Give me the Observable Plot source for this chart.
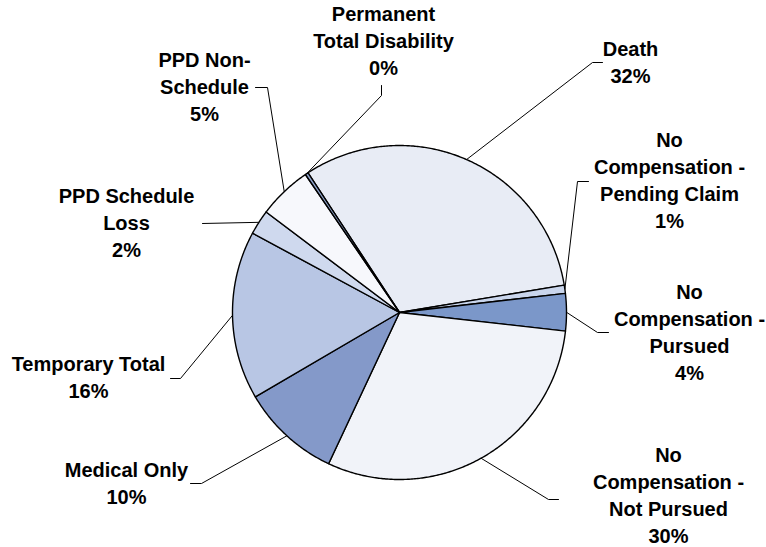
<!DOCTYPE html>
<html>
<head>
<meta charset="utf-8">
<script src="https://cdn.jsdelivr.net/npm/d3@7"></script>
<script src="https://cdn.jsdelivr.net/npm/@observablehq/plot@0.6"></script>
<style>
  html, body { margin: 0; padding: 0; background: #fff; }
  #chart svg { display: block; }
</style>
</head>
<body>
<div id="chart"></div>
<script>
// ---- Data ----
const categories = [
  "Death",
  "No Compensation - Pending Claim",
  "No Compensation - Pursued",
  "No Compensation - Not Pursued",
  "Medical Only",
  "Temporary Total",
  "PPD Schedule Loss",
  "PPD Non-Schedule",
  "Permanent Total Disability"
];
const shares = [31.6, 0.8, 3.6, 30.2, 9.6, 16.3, 2.4, 5.2, 0.3];
const labelNames = [
  "Death",
  "No\nCompensation -\nPending Claim",
  "No\nCompensation -\nPursued",
  "No\nCompensation -\nNot Pursued",
  "Medical Only",
  "Temporary Total",
  "PPD Schedule\nLoss",
  "PPD Non-\nSchedule",
  "Permanent\nTotal Disability"
];

// ---- Styles / layout ----
const sliceColors = ["#e8ecf5", "#c9d5ec", "#7b97c9", "#f1f3f9", "#8499c9", "#b8c6e4", "#cfd9ee", "#f7f8fc", "#8fa3cc"];
const W = 766, H = 547;
const cx = 399, cy = 312, R = 167;
const startDeg = -33.2;
const textShift = -3;
// label block centre and leader elbow/tick points (pixel layout)
const labelLayout = [
  {tx: 630, ty: 63.5, pts: [[592, 62], [602, 62]]},
  {tx: 669, ty: 181.5, pts: [[577, 181], [588, 181]]},
  {tx: 689, ty: 333, pts: [[597, 332], [608, 332]]},
  {tx: 668, ty: 496.5, pts: [[548, 499], [558, 499]]},
  {tx: 126, ty: 484.5, pts: [[201, 483], [190, 483]]},
  {tx: 88, ty: 378.5, pts: [[180, 378], [170, 378]]},
  {tx: 126, ty: 224, pts: [[202, 223]]},
  {tx: 204, ty: 88, pts: [[267, 87], [255, 87]]},
  {tx: 383, ty: 41.5, pts: [[381, 95], [381, 85]]}
];

// ---- Geometry from data ----
const total = d3.sum(shares);
const rad = d => d * Math.PI / 180;
const pt = (deg, r) => [cx + r * Math.sin(rad(deg)), cy - r * Math.cos(rad(deg))];

let acc = startDeg;
const slices = categories.map((c, i) => {
  const a0 = acc, a1 = acc + shares[i] / total * 360;
  acc = a1;
  return {cat: c, a0, a1, mid: (a0 + a1) / 2, color: sliceColors[i], share: shares[i], i};
});

const slicePts = [];
for (const s of slices) {
  slicePts.push({cat: s.cat, color: s.color, p: [cx, cy]});
  const n = Math.max(2, Math.ceil((s.a1 - s.a0) / 0.5));
  for (let k = 0; k <= n; k++) {
    const a = s.a0 + (s.a1 - s.a0) * k / n;
    slicePts.push({cat: s.cat, color: s.color, p: pt(a, R)});
  }
}

const leaderPts = [];
slices.forEach((s, i) => {
  leaderPts.push({cat: s.cat, p: pt(s.mid, R)});
  for (const q of labelLayout[i].pts) leaderPts.push({cat: s.cat, p: q});
});

const labels = slices.map((s, i) => ({
  x: labelLayout[i].tx, y: labelLayout[i].ty + textShift,
  text: labelNames[i] + "\n" + Math.round(s.share) + "%"
}));

const chart = Plot.plot({
  width: W, height: H,
  margin: 0,
  x: {domain: [0, W], range: [0, W], axis: null},
  y: {domain: [0, H], range: [0, H], axis: null},
  color: {type: "identity"},
  marks: [
    Plot.line(leaderPts, {x: d => d.p[0], y: d => d.p[1], z: "cat", stroke: "#000", strokeWidth: 1}),
    Plot.line(slicePts, {x: d => d.p[0], y: d => d.p[1], z: "cat", fill: "color", stroke: "#000", strokeWidth: 1.4, curve: "linear-closed", strokeLinejoin: "round"}),
    Plot.text(labels, {x: "x", y: "y", text: "text", fontSize: 20, fontWeight: "bold",
      fontFamily: "Liberation Sans, Arial, sans-serif", lineHeight: 1.35,
      textAnchor: "middle", lineAnchor: "middle", fill: "#000"})
  ]
});
document.getElementById("chart").appendChild(chart);
</script>
</body>
</html>
